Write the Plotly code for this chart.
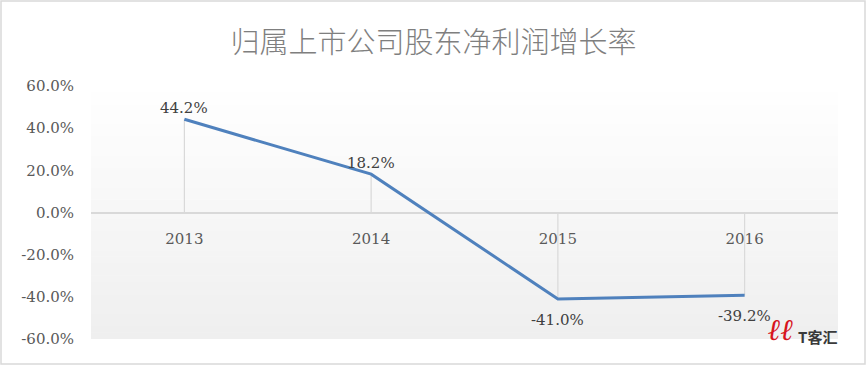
import plotly.graph_objects as go

years = ["2013", "2014", "2015", "2016"]
growth = [44.2, 18.2, -41.0, -39.2]
y_ticks = [60, 40, 20, 0, -20, -40, -60]
y_tick_labels = ["60.0%", "40.0%", "20.0%", "0.0%", "-20.0%", "-40.0%", "-60.0%"]
title_text = "归属上市公司股东净利润增长率"

W, H = 867, 368
L, R, T, B = 91, 29, 86, 29
pw, ph = W - L - R, H - T - B

fig = go.Figure()

# gradient plot-area background
n = 40
for i in range(n):
    f = i / n
    c = int(round(239 + (255 - 239) * f))
    fig.add_shape(type="rect", xref="x domain", yref="y domain",
                  x0=0, x1=1, y0=f, y1=(i + 1) / n + 0.002,
                  fillcolor=f"rgb({c},{c},{c})", line_width=0, layer="below")

# drop lines from the data points to zero
for x, v in zip(years, growth):
    fig.add_trace(go.Scatter(x=[x, x], y=[0, v], mode="lines",
                             line=dict(color="#d9d9d9", width=1.2),
                             hoverinfo="skip", showlegend=False))

fig.add_trace(go.Scatter(
    x=years, y=growth, mode="lines",
    line=dict(color="#4f81bd", width=3),
    showlegend=False))

# data labels (category index positions)
for i, v in enumerate(growth):
    fig.add_annotation(xref="x", yref="y", x=i, y=v, text=f"{v:.1f}%", showarrow=False,
                       yanchor="middle", yshift=11 if v >= 0 else -21,
                       font=dict(family="DejaVu Serif", size=15, color="#404040"))

# outer chart border
fig.add_shape(type="rect", xref="paper", yref="paper",
              x0=(1 - L) / pw, x1=(W - 2 - L) / pw,
              y0=-(B - 4) / ph, y1=1 + (T - 1) / ph,
              line=dict(color="#d9d9d9", width=1.5), fillcolor="rgba(0,0,0,0)", layer="below")

# watermark
fig.add_annotation(xref="paper", yref="paper", x=(795 - L) / pw, y=-(348 - (H - B)) / ph,
                   text="<b><i>ℓℓ</i></b>", showarrow=False, borderpad=0,
                   font=dict(family="DejaVu Serif", size=30, color="#d7141c"))
fig.add_annotation(xref="paper", yref="paper", x=(838 - L) / pw, y=-(348 - (H - B)) / ph,
                   text="T客汇", showarrow=False, borderpad=0,
                   font=dict(family="Noto Sans CJK SC", size=15, color="#3a3a3a", weight=700))

fig.update_layout(
    width=W, height=H,
    margin=dict(l=L, r=R, t=T, b=B),
    paper_bgcolor="white", plot_bgcolor="white",
    title=dict(text=title_text, x=0.5, xref="container", xanchor="center",
               y=1 - 43 / H, yanchor="middle",
               font=dict(family="Noto Sans CJK SC", size=29, color="#7f7f7f", weight=300)),
    xaxis=dict(type="category", range=[-0.5, 3.5], anchor="free", position=0.5,
               showline=False, showgrid=False, zeroline=False, ticks="",
               ticklabelstandoff=15,
               tickfont=dict(family="DejaVu Serif", size=15, color="#595959")),
    yaxis=dict(range=[-60, 60], tickvals=y_ticks, ticktext=y_tick_labels,
               showgrid=False, zeroline=True, zerolinecolor="#d9d9d9", zerolinewidth=1.5,
               showline=False, ticks="", ticklabelstandoff=16,
               tickfont=dict(family="DejaVu Serif", size=15, color="#595959")),
)

fig.write_html("out.html", config={"displayModeBar": False},
               post_script="document.body.style.margin='0';document.body.style.overflow='hidden';")
